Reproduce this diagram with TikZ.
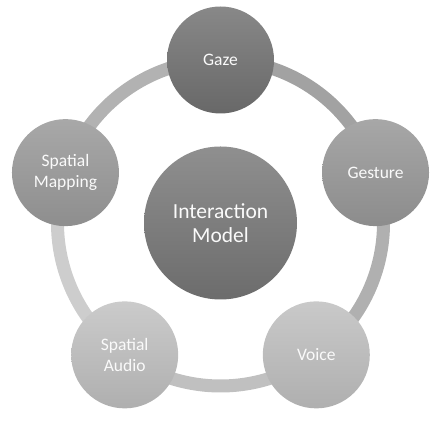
\documentclass[tikz,border=0pt]{standalone}
\usepackage{fontspec}
\setmainfont{Carlito}
\usetikzlibrary{calc}
\definecolor{ringA}{RGB}{178,178,178}
\definecolor{ringB}{RGB}{162,162,162}
\definecolor{ringC}{RGB}{176,176,176}
\definecolor{ringD}{RGB}{192,192,192}
\definecolor{ringE}{RGB}{205,205,205}
\definecolor{textwhite}{RGB}{250,250,250}

\begin{document}
\begin{tikzpicture}[x=1pt,y=1pt,
    roundnode/.style={circle, minimum size=107pt, inner sep=0pt, align=center, text=textwhite, font=\fontsize{17.5}{20.5}\selectfont},
    bignode/.style={circle, minimum size=153pt, inner sep=0pt, align=center, text=textwhite, font=\fontsize{21.5}{24}\selectfont},
    ringarc/.style={line width=13pt}]
    \useasboundingbox (0,0) rectangle (444,427);
    % centre of the cycle
    \coordinate (O) at (220.5,204);
    % ring position of each node
    \coordinate (pgaze)    at ($(O)+(90:163)$);
    \coordinate (pgesture) at ($(O)+(18:163)$);
    \coordinate (pvoice)   at ($(O)+(-54:163)$);
    \coordinate (paudio)   at ($(O)+(-126:163)$);
    \coordinate (pmapping) at ($(O)+(162:163)$);
    % ring
    \draw[ringarc, ringA] (pmapping) arc[start angle=162, end angle=90, radius=163];
    \draw[ringarc, ringB] (pgaze)    arc[start angle=90, end angle=18, radius=163];
    \draw[ringarc, ringC] (pgesture) arc[start angle=18, end angle=-54, radius=163];
    \draw[ringarc, ringD] (pvoice)   arc[start angle=-54, end angle=-126, radius=163];
    \draw[ringarc, ringE] (paudio)   arc[start angle=-126, end angle=-198, radius=163];
    % nodes
    \node[bignode, top color={rgb,255:red,143;green,143;blue,143}, bottom color={rgb,255:red,108;green,108;blue,108}] (model) at (O) {Interaction\\Model};
    \node[roundnode, top color={rgb,255:red,136;green,136;blue,136}, bottom color={rgb,255:red,104;green,104;blue,104}] (gaze) at (pgaze) {Gaze};
    \node[roundnode, top color={rgb,255:red,167;green,167;blue,167}, bottom color={rgb,255:red,140;green,140;blue,140}] (gesture) at (pgesture) {Gesture};
    \node[roundnode, top color={rgb,255:red,201;green,201;blue,201}, bottom color={rgb,255:red,175;green,175;blue,175}] (voice) at (pvoice) {Voice};
    \node[roundnode, top color={rgb,255:red,203;green,203;blue,203}, bottom color={rgb,255:red,175;green,175;blue,175}] (audio) at (paudio) {Spatial\\Audio};
    \node[roundnode, top color={rgb,255:red,168;green,168;blue,168}, bottom color={rgb,255:red,142;green,142;blue,142}] (mapping) at (pmapping) {Spatial\\Mapping};
\end{tikzpicture}
\end{document}
